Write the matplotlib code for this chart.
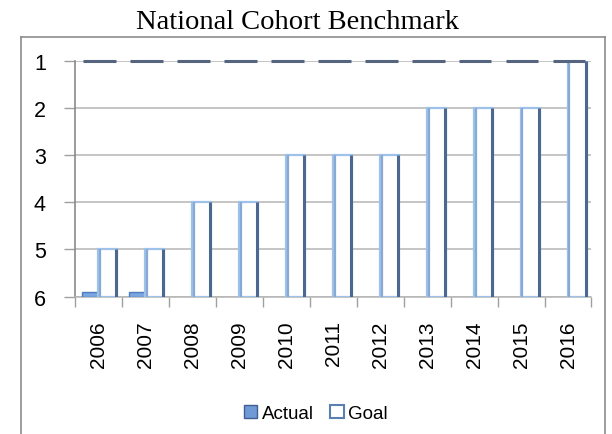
import numpy as np
import matplotlib
matplotlib.use("Agg")
import matplotlib.pyplot as plt
from matplotlib.lines import Line2D

# data (rank scale, 1 = best, drawn upside down)
years = ["2006", "2007", "2008", "2009", "2010", "2011",
         "2012", "2013", "2014", "2015", "2016"]
actual = [5.9, 5.9, np.nan, np.nan, np.nan, np.nan,
          np.nan, np.nan, np.nan, np.nan, np.nan]
goal = [5, 5, 4, 4, 3, 3, 3, 2, 2, 2, 1]
ranks = [1, 2, 3, 4, 5, 6]

plt.rcParams['font.family'] = ['Liberation Sans', 'DejaVu Sans']

fig = plt.figure(figsize=(6.12, 4.35), dpi=100)
ax = fig.add_axes([0.1225, 0.3156, 0.8440, 0.5428])

x = np.arange(len(years))
base = max(ranks)
w_act = 0.35
w_goal = 0.40

act = np.array(actual, dtype=float)
gl = np.array(goal, dtype=float)

# actual bars (grow up from the bottom rank)
ax.bar(x - w_act / 2, act - base, bottom=base, width=w_act,
       color='#79a6df', edgecolor='#4f7cbf', linewidth=1.0, zorder=3)

# goal bars: white, light left/top edge, dark right edge
ax.bar(x + w_goal / 2, gl - base, bottom=base, width=w_goal,
       color='white', edgecolor='#9fc2ea', linewidth=1.6, zorder=3)
ax.vlines(x + w_goal - 0.02, gl, base, color='#4c6890', linewidth=2.2, zorder=4)
ax.vlines(x + 0.03, gl, base, color='#86a9d6', linewidth=1.6, zorder=4)

# dark caps along the top rank
ax.hlines(np.full(len(years), min(ranks)), x - 0.33, x + 0.37,
          color='#56657f', linewidth=2.2, zorder=5, clip_on=False)

ax.set_xlim(-0.5, len(years) - 0.5)
ax.set_ylim(max(ranks), min(ranks))
ax.set_yticks(ranks)
ax.set_yticklabels([str(r) for r in ranks], fontsize=15.5)
ax.yaxis.grid(True, color='#b5b5b5', linewidth=1.1, zorder=0)
ax.set_axisbelow(True)

ax.set_xticks(x)
ax.set_xticklabels(years, rotation=90, fontsize=15)
ax.set_xticks(np.arange(len(years) + 1) - 0.5, minor=True)
ax.tick_params(axis='x', which='major', length=0, pad=17)
ax.tick_params(axis='x', which='minor', length=7, color='#a0a0a0', width=1)
ax.tick_params(axis='y', length=8, color='#a0a0a0', width=1, pad=13)

for s in ['top', 'right']:
    ax.spines[s].set_visible(False)
ax.spines['left'].set_color('#8a8a8a')
ax.spines['bottom'].set_color('#b5b5b5')
ax.spines['left'].set_linewidth(1.2)
ax.spines['bottom'].set_linewidth(1.1)

fig.text(0.486, 0.933, "National Cohort Benchmark", ha='center', va='baseline',
         fontsize=20.5, family=['Liberation Serif', 'DejaVu Serif'])

# legend
h_act = plt.Rectangle((0, 0), 1, 1, facecolor='#6f9ad6', edgecolor='#3e5f8f', linewidth=1)
h_goal = plt.Rectangle((0, 0), 1, 1, facecolor='white', edgecolor='#5b7fb0', linewidth=1.5)
fig.legend([h_act, h_goal], ["Actual", "Goal"], loc='center',
           bbox_to_anchor=(0.516, 0.048), ncol=2, frameon=False,
           fontsize=13.5, handlelength=0.7, handleheight=0.7,
           handletextpad=0.25, columnspacing=0.9)

# chart border (open at the bottom)
bc = '#8c8c8c'
fig.add_artist(Line2D([0.034, 0.034], [0.0, 0.913], color=bc, linewidth=1.2))
fig.add_artist(Line2D([0.034, 0.989], [0.913, 0.913], color=bc, linewidth=1.2))
fig.add_artist(Line2D([0.989, 0.989], [0.0, 0.913], color=bc, linewidth=1.2))

fig.savefig("out.png", dpi=100)
